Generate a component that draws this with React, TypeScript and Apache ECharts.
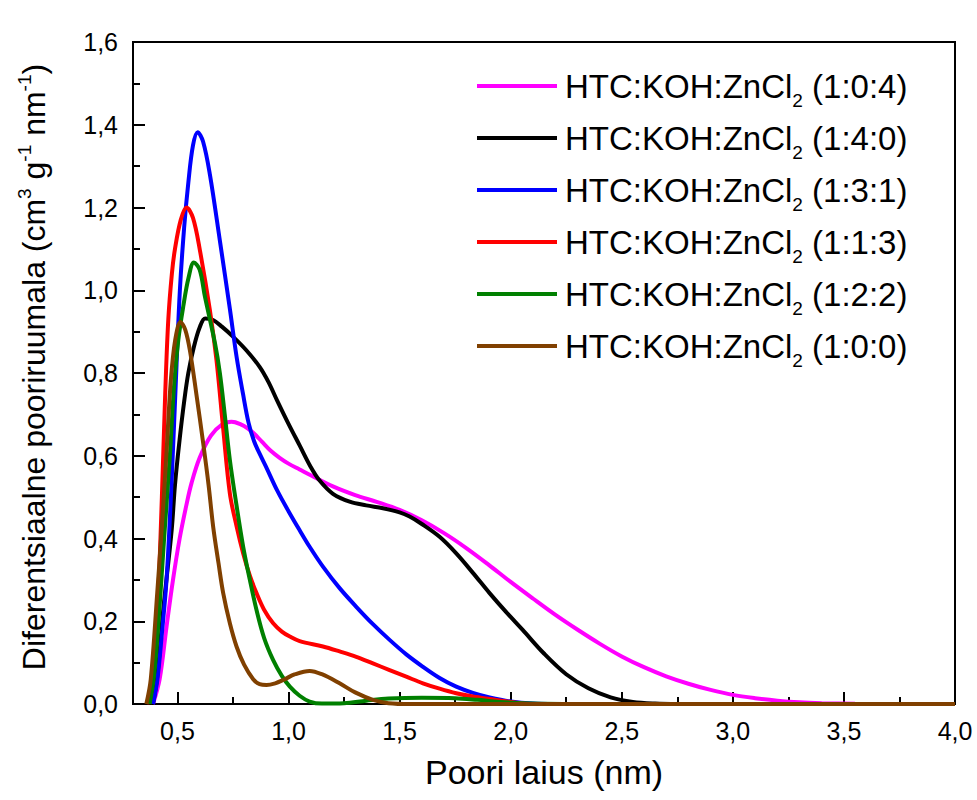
import React, { useEffect, useRef } from "react";
import * as echarts from "echarts";

const FONT = "'Liberation Sans', Arial, sans-serif";

const seriesNames = [
  "HTC:KOH:ZnCl2 (1:0:4)",
  "HTC:KOH:ZnCl2 (1:4:0)",
  "HTC:KOH:ZnCl2 (1:3:1)",
  "HTC:KOH:ZnCl2 (1:1:3)",
  "HTC:KOH:ZnCl2 (1:2:2)",
  "HTC:KOH:ZnCl2 (1:0:0)",
];
const seriesColors = ["#FF00FF", "#000000", "#0000FF", "#FF0000", "#008000", "#804000"];

const xMajorTicks = [0.5, 1.0, 1.5, 2.0, 2.5, 3.0, 3.5, 4.0];
const xMinorTicks = [0.75, 1.25, 1.75, 2.25, 2.75, 3.25, 3.75];

// HTC:KOH:ZnCl2 (1:0:4)
const s104 = [
  [0.39, 0], [0.42, 0.06], [0.451, 0.187], [0.48, 0.3], [0.51, 0.4], [0.54, 0.48],
  [0.564, 0.535], [0.60, 0.595], [0.65, 0.648], [0.70, 0.675], [0.743, 0.682], [0.76, 0.681],
  [0.80, 0.672], [0.84, 0.656], [0.88, 0.634], [0.92, 0.612], [0.96, 0.595], [1.0, 0.581],
  [1.05, 0.567], [1.1, 0.553], [1.2, 0.526], [1.3, 0.505], [1.4, 0.488], [1.5, 0.469],
  [1.6, 0.444], [1.7, 0.413], [1.8, 0.377], [1.9, 0.337], [2.0, 0.295], [2.1, 0.255],
  [2.2, 0.216], [2.3, 0.18], [2.4, 0.146], [2.5, 0.115], [2.6, 0.089], [2.7, 0.067],
  [2.8, 0.049], [2.9, 0.034], [3.0, 0.022], [3.1, 0.014], [3.2, 0.008], [3.3, 0.004],
  [3.4, 0.002], [3.55, 0.0005], [3.7, 0], [4.0, 0],
];
// HTC:KOH:ZnCl2 (1:4:0)
const s140 = [
  [0.39, 0], [0.41, 0.07], [0.436, 0.227], [0.474, 0.42], [0.489, 0.53], [0.51, 0.64],
  [0.53, 0.73], [0.549, 0.8], [0.575, 0.865], [0.60, 0.91], [0.625, 0.932], [0.66, 0.928],
  [0.70, 0.912], [0.75, 0.888], [0.81, 0.855], [0.87, 0.815], [0.91, 0.778], [0.95, 0.732],
  [1.0, 0.677], [1.05, 0.625], [1.1, 0.573], [1.14, 0.54], [1.2, 0.508], [1.275, 0.489],
  [1.35, 0.48], [1.425, 0.473], [1.5, 0.463], [1.545, 0.453], [1.6, 0.435], [1.68, 0.404],
  [1.755, 0.364], [1.83, 0.317], [1.905, 0.268], [1.98, 0.222], [2.054, 0.179], [2.15, 0.122],
  [2.25, 0.072], [2.35, 0.038], [2.45, 0.016], [2.55, 0.005], [2.65, 0.001], [2.75, 0],
  [4.0, 0],
];
// HTC:KOH:ZnCl2 (1:3:1)
const s131 = [
  [0.39, 0], [0.41, 0.06], [0.43, 0.17], [0.451, 0.3], [0.474, 0.54], [0.496, 0.82],
  [0.511, 1.0], [0.53, 1.15], [0.549, 1.26], [0.57, 1.35], [0.591, 1.382], [0.615, 1.36],
  [0.646, 1.28], [0.691, 1.12], [0.736, 0.955], [0.766, 0.84], [0.795, 0.75], [0.82, 0.68],
  [0.845, 0.635], [0.87, 0.605], [0.90, 0.572], [0.95, 0.515], [1.0, 0.466], [1.05, 0.42],
  [1.095, 0.38], [1.155, 0.332], [1.23, 0.28], [1.305, 0.235], [1.38, 0.193], [1.455, 0.155],
  [1.53, 0.12], [1.605, 0.09], [1.68, 0.063], [1.755, 0.042], [1.83, 0.027], [1.905, 0.016],
  [2.0, 0.006], [2.1, 0.001], [2.2, 0], [4.0, 0],
];
// HTC:KOH:ZnCl2 (1:1:3)
const s113 = [
  [0.365, 0], [0.385, 0.05], [0.40, 0.14], [0.414, 0.268], [0.43, 0.5], [0.445, 0.75],
  [0.459, 0.93], [0.475, 1.04], [0.489, 1.1], [0.515, 1.17], [0.541, 1.2], [0.57, 1.175],
  [0.601, 1.097], [0.646, 0.952], [0.676, 0.83], [0.706, 0.665], [0.736, 0.509], [0.766, 0.43],
  [0.796, 0.364], [0.826, 0.31], [0.856, 0.268], [0.89, 0.228], [0.931, 0.195], [0.97, 0.175],
  [1.006, 0.163], [1.05, 0.152], [1.155, 0.139], [1.23, 0.127], [1.305, 0.114], [1.38, 0.098],
  [1.455, 0.082], [1.53, 0.066], [1.605, 0.05], [1.68, 0.037], [1.755, 0.026], [1.83, 0.018],
  [1.905, 0.012], [2.0, 0.005], [2.1, 0], [4.0, 0],
];
// HTC:KOH:ZnCl2 (1:2:2)
const s122 = [
  [0.375, 0], [0.395, 0.07], [0.415, 0.2], [0.44, 0.4], [0.466, 0.6], [0.485, 0.77],
  [0.504, 0.88], [0.526, 0.96], [0.55, 1.03], [0.574, 1.067], [0.60, 1.05], [0.624, 0.984],
  [0.669, 0.872], [0.691, 0.8], [0.713, 0.7], [0.736, 0.59], [0.766, 0.48], [0.796, 0.38],
  [0.826, 0.3], [0.856, 0.227], [0.89, 0.16], [0.931, 0.106], [0.97, 0.068], [1.006, 0.042],
  [1.05, 0.02], [1.095, 0.006], [1.15, 0.001], [1.25, 0.002], [1.35, 0.008], [1.45, 0.013],
  [1.6, 0.015], [1.75, 0.014], [1.85, 0.01], [1.95, 0.005], [2.1, 0.001], [2.3, 0], [4.0, 0],
];
// HTC:KOH:ZnCl2 (1:0:0)
const s100 = [
  [0.36, 0], [0.38, 0.06], [0.409, 0.268], [0.43, 0.43], [0.45, 0.6], [0.47, 0.78],
  [0.49, 0.88], [0.514, 0.923], [0.535, 0.905], [0.556, 0.855], [0.585, 0.75], [0.616, 0.63],
  [0.64, 0.53], [0.661, 0.428], [0.685, 0.34], [0.706, 0.268], [0.736, 0.195], [0.766, 0.139],
  [0.80, 0.095], [0.841, 0.06], [0.87, 0.048], [0.901, 0.046], [0.94, 0.05], [0.976, 0.058],
  [1.03, 0.072], [1.095, 0.08], [1.15, 0.072], [1.23, 0.05], [1.3, 0.028], [1.38, 0.01],
  [1.45, 0.002], [1.55, 0], [4.0, 0],
];

const seriesData = [s104, s140, s131, s113, s122, s100];

const fmt = (v: number) => v.toFixed(1).replace(".", ",");

export default function App() {
  const ref = useRef<HTMLDivElement>(null);
  useEffect(() => {
    document.body.style.margin = "0";
    const chart = echarts.init(ref.current!, null, { renderer: "svg" });
    const axisLineStyle = { color: "#000", width: 2 };
    chart.setOption({
      animation: false,
      backgroundColor: "#fff",
      grid: {
        left: 133,
        right: 22,
        top: 42,
        bottom: 96,
        show: true,
        borderColor: "#000",
        borderWidth: 2,
        backgroundColor: "transparent",
      },
      legend: {
        orient: "vertical",
        left: 472,
        top: 57,
        icon: "rect",
        itemWidth: 80,
        itemHeight: 4,
        itemGap: 4,
        data: seriesNames,
        formatter: (name: string) => name.replace("ZnCl2", "ZnCl{sub|2}"),
        textStyle: {
          fontFamily: FONT,
          fontSize: 33,
          lineHeight: 48,
          color: "#000",
          padding: [0, 0, 0, 3],
          rich: {
            sub: { fontFamily: FONT, fontSize: 19, lineHeight: 19, verticalAlign: "bottom", color: "#000" },
          },
        },
      },
      xAxis: [
        {
          type: "value",
          min: 0.3,
          max: 4.0,
          position: "bottom",
          axisLine: { show: true, lineStyle: axisLineStyle },
          axisTick: { show: true, inside: true, length: 12, customValues: xMajorTicks, lineStyle: axisLineStyle },
          axisLabel: {
            customValues: xMajorTicks,
            formatter: fmt,
            fontFamily: FONT,
            fontSize: 25,
            color: "#000",
            margin: 14,
          },
          splitLine: { show: false },
          name: "Poori laius (nm)",
          nameLocation: "middle",
          nameGap: 51,
          nameTextStyle: { fontFamily: FONT, fontSize: 34, color: "#000" },
        },
        {
          type: "value",
          min: 0.3,
          max: 4.0,
          position: "bottom",
          axisLine: { show: false },
          axisTick: { show: true, inside: true, length: 7, customValues: xMinorTicks, lineStyle: axisLineStyle },
          axisLabel: { show: false },
          splitLine: { show: false },
        },
      ],
      yAxis: {
        type: "value",
        min: 0,
        max: 1.6,
        interval: 0.2,
        axisLine: { show: true, lineStyle: axisLineStyle },
        axisTick: { show: true, inside: true, length: 12, lineStyle: axisLineStyle },
        minorTick: { show: true, splitNumber: 2, length: 7, lineStyle: axisLineStyle },
        axisLabel: { formatter: fmt, fontFamily: FONT, fontSize: 25, color: "#000", margin: 15 },
        splitLine: { show: false },
        minorSplitLine: { show: false },
        name: "Diferentsiaalne pooriruumala (cm{sup|3} g{sup|-1} nm{sup|-1})",
        nameLocation: "middle",
        nameRotate: 90,
        nameGap: 81,
        nameTextStyle: {
          fontFamily: FONT,
          fontSize: 32,
          lineHeight: 37,
          color: "#000",
          padding: [0, 0, 0, 12],
          rich: {
            sup: { fontFamily: FONT, fontSize: 19, lineHeight: 19, verticalAlign: "top", color: "#000" },
          },
        },
      },
      series: seriesNames.map((name, i) => ({
        name,
        type: "line",
        xAxisIndex: 0,
        data: seriesData[i],
        symbol: "none",
        smooth: 0.35,
        lineStyle: { width: 4, color: seriesColors[i] },
        itemStyle: { color: seriesColors[i] },
      })),
    });
    return () => chart.dispose();
  }, []);
  return <div ref={ref} style={{ width: 977, height: 800 }} />;
}
